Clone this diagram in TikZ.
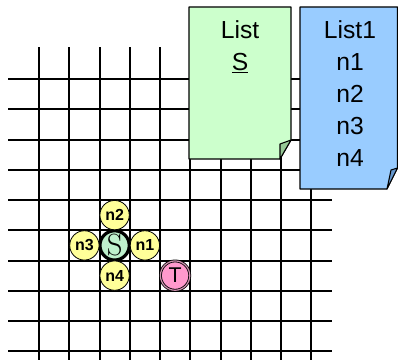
\documentclass[tikz,border=0pt]{standalone}
\usepackage{fontspec}
\setsansfont{Liberation Sans}
\definecolor{notegreen}{RGB}{204,255,204}
\definecolor{foldgreen}{RGB}{150,200,150}
\definecolor{noteblue}{RGB}{153,204,255}
\definecolor{foldblue}{RGB}{100,150,205}
\definecolor{ballyellow}{RGB}{255,255,153}
\definecolor{startgreen}{RGB}{190,240,205}
\definecolor{targetpink}{RGB}{255,153,204}
\begin{document}
\begin{tikzpicture}[x=0.75pt,y=-0.75pt,
  gridline/.style={line width=1.5pt},
  note/.style={draw, line width=0.8pt, line join=round},
  notetext/.style={anchor=north, inner sep=0pt, align=center, font=\sffamily\fontsize{18.5}{24}\selectfont},
  ball/.style={circle, draw, line width=0.6pt, fill=ballyellow, minimum size=22pt, inner sep=0pt, font=\sffamily\bfseries\fontsize{12}{12}\selectfont}]
\useasboundingbox (0,0) rectangle (398,360);
% grid
\foreach \i in {0,...,9} {
  \draw[gridline] (39+30.25*\i,47) -- (39+30.25*\i,360);
  \draw[gridline] (8,79+30.25*\i) -- (332,79+30.25*\i);
}
% lists
\draw[note, fill=notegreen] (189,7) -- (291,7) -- (291,140) -- (280,159) -- (189,159) -- cycle;
\draw[note, fill=foldgreen] (291,140) -- (280,144) -- (280,159) -- cycle;
\draw[note, fill=noteblue] (300,7) -- (397.5,7) -- (397.5,168) -- (387,189) -- (300,189) -- cycle;
\draw[note, fill=foldblue] (397.5,168) -- (391,170) -- (387,189) -- cycle;
\node[notetext] (ls) at (240,20) {List\\\underline{S}};
\node[notetext] (l1) at (350,20) {List1\\n1\\n2\\n3\\n4};
% start, neighbours, target
\node[ball, fill=startgreen, line width=2.4pt, font=\fontsize{23}{23}\selectfont] (s) at (114.6,245.4) {S};
\node[ball] (n1) at (144.9,245.4) {n1};
\node[ball] (n2) at (114.6,215.1) {n2};
\node[ball] (n3) at (84.4,245.4) {n3};
\node[ball] (n4) at (114.6,275.6) {n4};
\node[ball, fill=targetpink, double=targetpink!60!gray, double distance=0.9pt, font=\sffamily\fontsize{16}{16}\selectfont] (t) at (175.1,275.6) {T};
\end{tikzpicture}
\end{document}
